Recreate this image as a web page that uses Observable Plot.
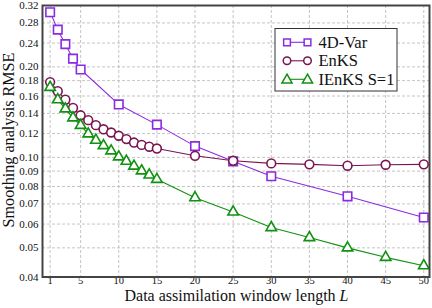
<!DOCTYPE html>
<html>
<head>
<meta charset="utf-8">
<script src="https://cdn.jsdelivr.net/npm/d3@7"></script>
<script src="https://cdn.jsdelivr.net/npm/@observablehq/plot@0.6"></script>
<style>
  html, body { margin: 0; padding: 0; background: #fff; }
  #chart svg { display: block; }
  #chart svg, #chart svg text { font-family: 'Liberation Serif', 'DejaVu Serif', serif !important; }
</style>
</head>
<body>
<div id="chart"></div>
<script>
const seriesNames = ["4D-Var", "EnKS", "IEnKS S=1"];

const varL = [1, 2, 3, 4, 5, 10, 15, 20, 25, 30, 40, 50];
const varRMSE = [0.304, 0.266, 0.238, 0.213, 0.196, 0.150, 0.1285, 0.109, 0.097, 0.0865, 0.0742, 0.0631];

const enksL = [1, 2, 3, 4, 5, 6, 7, 8, 9, 10, 11, 12, 13, 14, 15, 20, 25, 30, 35, 40, 45, 50];
const enksRMSE = [0.178, 0.166, 0.1555, 0.146, 0.138, 0.133, 0.128, 0.124, 0.121, 0.118, 0.115, 0.112, 0.110, 0.1085, 0.107, 0.1012, 0.0974, 0.0955, 0.0948, 0.0938, 0.0945, 0.0948];

const ienksL = [1, 2, 3, 4, 5, 6, 7, 8, 9, 10, 11, 12, 13, 14, 15, 20, 25, 30, 35, 40, 45, 50];
const ienksRMSE = [0.171, 0.1555, 0.145, 0.1354, 0.1278, 0.1197, 0.114, 0.1094, 0.1051, 0.1004, 0.0971, 0.0935, 0.0902, 0.0874, 0.0845, 0.0734, 0.0658, 0.0584, 0.0541, 0.0500, 0.0465, 0.0436];

const xTicks = [1, 5, 10, 15, 20, 25, 30, 35, 40, 45, 50];
const yTicks = [0.04, 0.05, 0.06, 0.07, 0.08, 0.09, 0.10, 0.12, 0.14, 0.16, 0.18, 0.20, 0.24, 0.28, 0.32];

const colors = ["#8a2be2", "#7a1452", "#119111"];
const symbols = ["square", "circle", "triangle"];

const mk = (L, v, s) => L.map((d, i) => ({L: d, v: v[i], s}));
const data = [
  ...mk(varL, varRMSE, seriesNames[0]),
  ...mk(enksL, enksRMSE, seriesNames[1]),
  ...mk(ienksL, ienksRMSE, seriesNames[2])
];

const font = "'Liberation Serif', 'DejaVu Serif', serif";

const marks = [
  Plot.ruleX(xTicks, {stroke: "#b5b5b5", strokeWidth: 0.8, strokeDasharray: "3,2"}),
  Plot.ruleY(yTicks, {stroke: "#b5b5b5", strokeWidth: 0.8, strokeDasharray: "3,2"}),
  Plot.axisX({ticks: xTicks, tickSize: 0, tickPadding: 0, fontSize: 10.5, label: null}),
  Plot.axisY({ticks: yTicks, tickSize: 0, tickPadding: 4, fontSize: 11, tickFormat: d3.format(".2f"), label: null})
];
seriesNames.forEach((name, i) => {
  const d = data.filter(r => r.s === name);
  marks.push(Plot.line(d, {x: "L", y: "v", stroke: colors[i], strokeWidth: 1.1}));
});
seriesNames.forEach((name, i) => {
  const d = data.filter(r => r.s === name);
  marks.push(Plot.dot(d, {x: "L", y: "v", symbol: () => symbols[i], stroke: colors[i], fill: "white", strokeWidth: 1.6, r: i === 0 ? 4.8 : (i === 1 ? 4.4 : 3.9)}));
});
marks.push(Plot.frame({stroke: "#444", strokeWidth: 2}));

const chart = Plot.plot({
  width: 432,
  height: 308,
  marginLeft: 42,
  marginRight: 3,
  marginTop: 5,
  marginBottom: 31.5,
  style: {fontFamily: font, fontSize: "11px", background: "white", color: "#111"},
  x: {domain: [0, 50.75]},
  y: {type: "log", domain: [0.04, 0.32]},
  symbol: {type: "identity"},
  marks
});
document.getElementById("chart").appendChild(chart);

const svg = d3.select(chart);
// fit a text's font size so its rendered length matches a target width
function fit(sel, target) {
  const node = sel.node();
  const len = node.getComputedTextLength();
  if (len > 0) {
    const fs = 16 * target / len;
    sel.style("font-size", Math.max(12, Math.min(18, fs)) + "px");
  }
  return sel;
}
// Axis titles
const xl = svg.append("text")
  .attr("x", 236.5).attr("y", 301)
  .attr("text-anchor", "middle")
  .style("font-family", font).style("font-size", "16px").attr("fill", "#111")
  .html('Data assimilation window length <tspan font-style="italic">L</tspan>');
fit(xl, 224);
const yl = svg.append("text")
  .attr("transform", "translate(14,140) rotate(-90)")
  .attr("text-anchor", "middle")
  .style("font-family", font).style("font-size", "16px").attr("fill", "#111")
  .text("Smoothing analysis RMSE");
fit(yl, 175);

// Legend
const lg = svg.append("g");
lg.append("rect").attr("x", 275).attr("y", 28.5).attr("width", 122).attr("height", 62.5)
  .attr("fill", "white").attr("stroke", "#333").attr("stroke-width", 1);
seriesNames.forEach((name, i) => {
  const cy = 42.3 + i * 18.5;
  lg.append("line").attr("x1", 287).attr("x2", 307.5).attr("y1", cy).attr("y2", cy)
    .attr("stroke", colors[i]).attr("stroke-width", 1.1);
  const sym = d3.symbol().type([d3.symbolSquare, d3.symbolCircle, d3.symbolTriangle][i])
    .size([45, 45, 45][i]);
  [287, 307.5].forEach(x => {
    lg.append("path").attr("d", sym()).attr("transform", `translate(${x},${cy + (i === 2 ? 0.8 : 0)})`)
      .attr("fill", "white").attr("stroke", colors[i]).attr("stroke-width", 1.5);
  });
  const t = lg.append("text").attr("x", 318.5).attr("y", cy + 5.3)
    .attr("text-anchor", "start")
    .style("font-family", font).style("font-size", "16px").attr("fill", "#111").text(name);
  if (i === 2) fit(t, 76);
});
// give all legend labels the same size as the longest one
const lgSize = lg.selectAll("text").filter((d, i) => i === 2).style("font-size");
lg.selectAll("text").style("font-size", lgSize);
</script>
</body>
</html>
